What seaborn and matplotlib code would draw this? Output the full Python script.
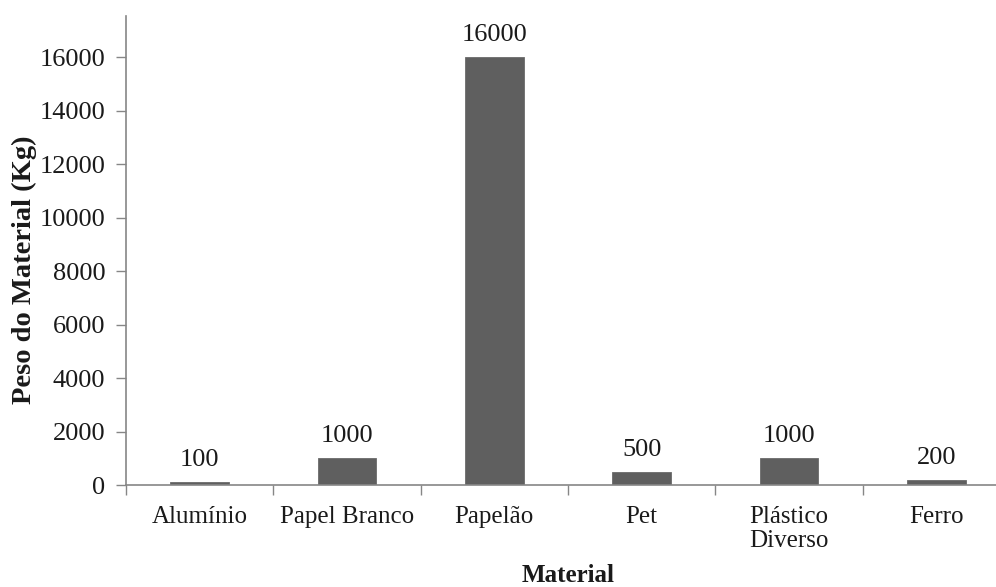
import matplotlib
matplotlib.use("Agg")
import matplotlib.pyplot as plt
import seaborn as sns
import pandas as pd

# Recycled material weights
materiais = ["Alumínio", "Papel Branco", "Papelão", "Pet", "Plástico\nDiverso", "Ferro"]
pesos = [100, 1000, 16000, 500, 1000, 200]
yticks = [0, 2000, 4000, 6000, 8000, 10000, 12000, 14000, 16000]

sns.set_theme(style="white")
plt.rcParams["font.family"] = ["Liberation Serif", "DejaVu Serif"]

df = pd.DataFrame({"Material": materiais, "Peso": pesos})

fig = plt.figure(figsize=(9.96, 5.87), dpi=100)
ax = fig.add_axes([126 / 996, 102 / 587, 884 / 996, 469 / 587])

sns.barplot(data=df, x="Material", y="Peso", color="#5f5f5f", width=0.4,
            saturation=1, edgecolor="#6a6a6a", linewidth=0.6, ax=ax)

for i, v in enumerate(pesos):
    ax.annotate(f"{v}", (i, v), xytext=(0, 8), textcoords="offset points",
                ha="center", va="bottom", fontsize=19, color="#1a1a1a")

ax.set_xlim(-0.5, len(materiais) - 0.5)
ax.set_ylim(0, 17533)
ax.set_yticks(yticks)
ax.set_yticklabels([str(t) for t in yticks])

# Category labels centred, tick marks on the boundaries between categories
ax.set_xticks(range(len(materiais)))
ax.set_xticklabels(materiais, linespacing=1.15)
ax.set_xticks([i - 0.5 for i in range(len(materiais) + 1)], minor=True)
ax.tick_params(axis="x", which="major", length=0, pad=15, labelsize=18,
               colors="#1a1a1a")
ax.tick_params(axis="x", which="minor", length=7, width=1, color="#868686",
               direction="out", bottom=True)
ax.tick_params(axis="y", length=7, width=1, color="#868686", direction="out",
               left=True, pad=8, labelsize=19, labelcolor="#1a1a1a")

for side in ("top", "right"):
    ax.spines[side].set_visible(False)
for side in ("left", "bottom"):
    ax.spines[side].set_color("#868686")
    ax.spines[side].set_linewidth(1.2)

ax.set_xlabel("Material", fontsize=18, fontweight="bold", color="#1a1a1a")
ax.set_ylabel("Peso do Material (Kg)", fontsize=20.5, fontweight="bold",
              color="#1a1a1a")
ax.xaxis.set_label_coords(0.5, -0.168)
ax.yaxis.set_label_coords(-0.101, 0.46)
ax.grid(False)

fig.savefig("out.png", dpi=100)
